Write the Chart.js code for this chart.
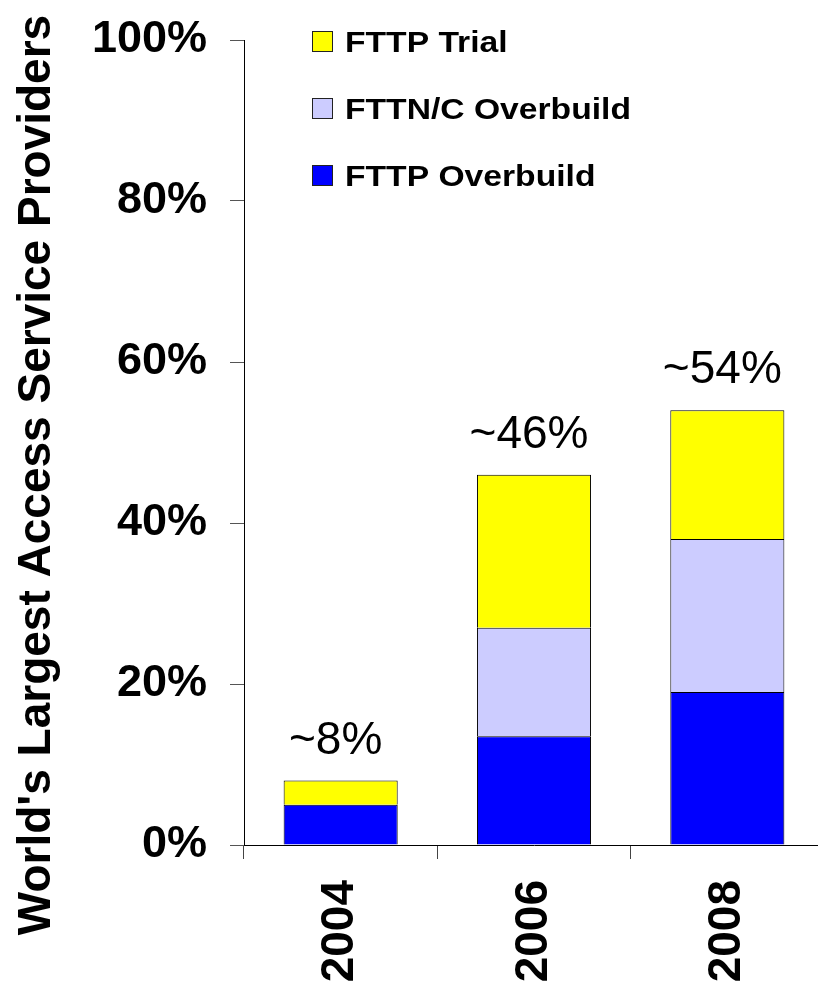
<!DOCTYPE html>
<html>
<head>
<meta charset="utf-8">
<script src="https://cdn.jsdelivr.net/npm/chart.js@4"></script>
<style>
html,body{margin:0;padding:0;background:#fff;overflow:hidden;width:818px;height:986px;}
canvas{display:block;}
</style>
</head>
<body>
<canvas id="c" width="824" height="986"></canvas>
<script>
const years = ['2004', '2006', '2008'];
const fttpOverbuild = [5, 13.5, 19];
const fttnOverbuild = [0, 13.5, 19];
const fttpTrial = [3, 19, 16];
const totalLabels = ['~8%', '~46%', '~54%'];
const yTitle = "World's Largest Access Service Providers";

const FONT = "'Liberation Sans', Arial, Helvetica, sans-serif";

const annotationsPlugin = {
  id: 'totals',
  afterDatasetsDraw(chart) {
    const ctx = chart.ctx;
    const xs = chart.scales.x, ys = chart.scales.y;
    ctx.save();
    ctx.fillStyle = '#000';
    ctx.font = '46px ' + FONT;
    ctx.textAlign = 'center';
    ctx.textBaseline = 'alphabetic';
    years.forEach((_, i) => {
      let total = 0;
      chart.data.datasets.forEach(ds => total += ds.data[i]);
      const x = xs.getPixelForValue(i) - 5;
      const y = ys.getPixelForValue(total) - 27;
      ctx.fillText(totalLabels[i], x, y);
    });
    ctx.restore();
  }
};

const legendPlugin = {
  id: 'customLegend',
  afterDraw(chart) {
    const ctx = chart.ctx;
    const dsets = chart.data.datasets.slice().reverse();
    ctx.save();
    dsets.forEach((ds, k) => {
      const top = 31 + k * 67;
      ctx.fillStyle = ds.backgroundColor;
      ctx.fillRect(312.5, top + 0.5, 20, 20);
      ctx.strokeStyle = '#222';
      ctx.lineWidth = 1;
      ctx.strokeRect(312.5, top + 0.5, 20, 20);
      ctx.save();
      ctx.translate(345, top + 21);
      ctx.scale(1.16, 1);
      ctx.fillStyle = '#000';
      ctx.font = 'bold 29px ' + FONT;
      ctx.textAlign = 'left';
      ctx.textBaseline = 'alphabetic';
      ctx.fillText(ds.label, 0, 0);
      ctx.restore();
    });
    // y-axis title
    ctx.save();
    ctx.translate(50, 475);
    ctx.rotate(-Math.PI / 2);
    ctx.fillStyle = '#000';
    ctx.font = 'bold 46px ' + FONT;
    ctx.textAlign = 'center';
    ctx.textBaseline = 'alphabetic';
    ctx.fillText(yTitle, 0, 0);
    ctx.restore();
    ctx.restore();
  }
};

new Chart(document.getElementById('c'), {
  type: 'bar',
  data: {
    labels: years,
    datasets: [
      { label: 'FTTP Overbuild', data: fttpOverbuild, backgroundColor: '#0000FF', borderColor: '#000', borderWidth: 1 },
      { label: 'FTTN/C Overbuild', data: fttnOverbuild, backgroundColor: '#CCCCFF', borderColor: '#000', borderWidth: 1 },
      { label: 'FTTP Trial', data: fttpTrial, backgroundColor: '#FFFF00', borderColor: '#000', borderWidth: 1 }
    ]
  },
  options: {
    responsive: false,
    animation: false,
    layout: { padding: { top: 40, left: 0, right: 0, bottom: 0 } },
    plugins: { legend: { display: false }, tooltip: { enabled: false } },
    datasets: { bar: { categoryPercentage: 1.0, barPercentage: 0.59 } },
    scales: {
      x: {
        stacked: true,
        afterFit(scale) { scale.height = 141; scale.paddingLeft = 0; scale.paddingRight = 0; },
        grid: { offset: true, drawOnChartArea: false, drawTicks: true, tickLength: 14, color: '#444' },
        border: { color: '#000', width: 1 },
        ticks: {
          color: '#000',
          font: { family: FONT, size: 46, weight: 'bold' },
          minRotation: 90, maxRotation: 90,
          padding: 21, autoSkip: false
        }
      },
      y: {
        stacked: true,
        min: 0, max: 100,
        afterFit(scale) { scale.width = 244; scale.paddingTop = 0; scale.paddingBottom = 0; },
        grid: { drawOnChartArea: false, drawTicks: true, tickLength: 14, color: '#555' },
        border: { color: '#000', width: 1 },
        ticks: {
          stepSize: 20,
          color: '#000',
          padding: 23,
          font: { family: FONT, size: 45, weight: 'bold' },
          callback: v => v + '%'
        }
      }
    }
  },
  plugins: [annotationsPlugin, legendPlugin]
});
</script>
</body>
</html>
